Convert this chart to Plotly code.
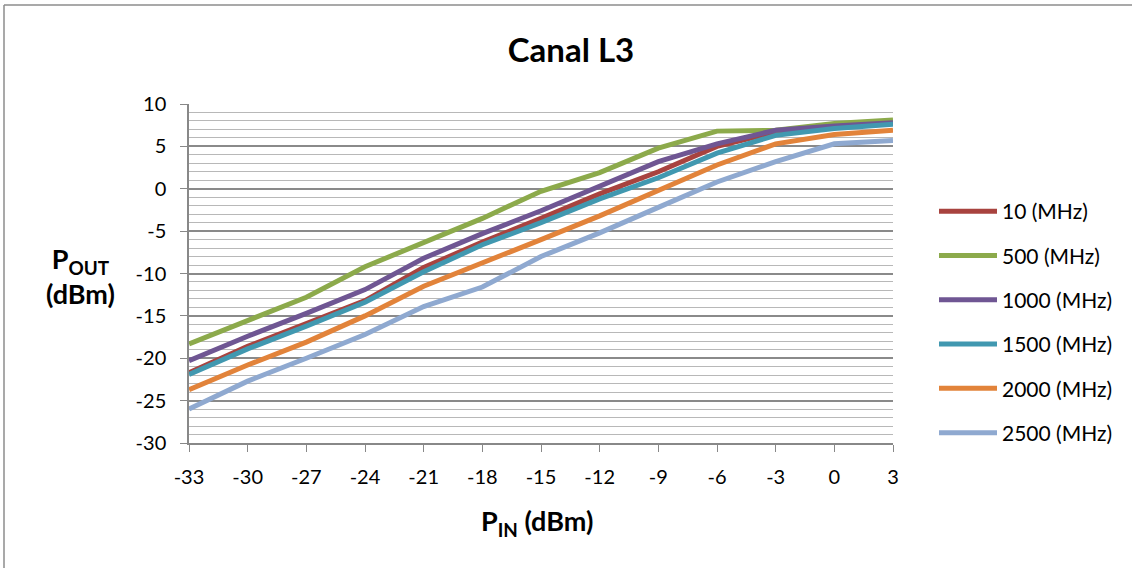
import plotly.graph_objects as go

# Input power sweep (dBm)
p_in = [-33, -30, -27, -24, -21, -18, -15, -12, -9, -6, -3, 0, 3]

# Output power (dBm) per frequency
series_names = ["10 (MHz)", "500 (MHz)", "1000 (MHz)", "1500 (MHz)", "2000 (MHz)", "2500 (MHz)"]
p_out_10 = [-21.7, -18.6, -15.9, -13.2, -9.3, -6.3, -3.5, -0.6, 2.0, 5.0, 6.7, 7.4, 7.8]
p_out_500 = [-18.3, -15.5, -12.8, -9.2, -6.4, -3.5, -0.3, 1.9, 4.8, 6.8, 6.9, 7.7, 8.1]
p_out_1000 = [-20.3, -17.4, -14.7, -11.9, -8.2, -5.3, -2.6, 0.3, 3.2, 5.3, 6.9, 7.4, 7.8]
p_out_1500 = [-21.9, -18.9, -16.2, -13.4, -9.8, -6.6, -4.0, -1.2, 1.3, 4.2, 6.3, 7.1, 7.6]
p_out_2000 = [-23.7, -20.8, -18.1, -15.0, -11.5, -8.8, -6.0, -3.2, -0.2, 2.8, 5.3, 6.4, 6.9]
p_out_2500 = [-26.0, -22.7, -20.0, -17.2, -13.9, -11.6, -8.0, -5.2, -2.2, 0.8, 3.2, 5.3, 5.7]

x_ticks = [-33, -30, -27, -24, -21, -18, -15, -12, -9, -6, -3, 0, 3]
y_ticks = [10, 5, 0, -5, -10, -15, -20, -25, -30]

colors = ["#A8433F", "#8CAA4B", "#6F5693", "#4198B0", "#E2833A", "#8FA9D0"]
all_series = [p_out_10, p_out_500, p_out_1000, p_out_1500, p_out_2000, p_out_2500]

FONT = "Lato"

fig = go.Figure()
for i, (name, ys, col) in enumerate(zip(series_names, all_series, colors)):
    fig.add_trace(go.Scatter(
        x=p_in, y=ys, mode="lines", name=name,
        line=dict(color=col, width=5),
        legendgroup=f"g{i}",
    ))

L, R, T, B = 189, 893, 104, 443
W, H = 1132, 568

fig.update_layout(
    width=W, height=H, autosize=False,
    margin=dict(l=L, r=W - R, t=T, b=H - B),
    paper_bgcolor="white", plot_bgcolor="white",
    font=dict(family=FONT, size=20, color="black"),
    title=dict(text="<b>Canal L3</b>", x=(571 - L) / (R - L), xref="paper", xanchor="center",
               y=1 - 50 / H, yanchor="middle", font=dict(size=33, family=FONT)),
    showlegend=True,
    legend=dict(
        x=(934 - L) / (R - L), xanchor="left",
        y=1 - (191 - T) / (B - T), yanchor="top",
        traceorder="grouped", tracegroupgap=14,
        itemwidth=58,
        font=dict(size=21, family=FONT),
        bgcolor="rgba(0,0,0,0)",
    ),
    xaxis=dict(
        range=[-33, 3], tickvals=x_ticks, ticktext=[str(v) for v in x_ticks],
        showgrid=False, zeroline=False,
        showline=True, linecolor="#888888", linewidth=1.5,
        ticks="outside", ticklen=7, tickcolor="#888888", tickwidth=1.2,
        ticklabelstandoff=8,
        tickfont=dict(size=20, family=FONT),
    ),
    yaxis=dict(
        range=[-30, 10], tickvals=y_ticks, ticktext=[str(v) for v in y_ticks],
        showgrid=True, gridcolor="#8A8A8A", gridwidth=1.5,
        zeroline=False,
        showline=True, linecolor="#888888", linewidth=1.5,
        ticks="outside", ticklen=7, tickcolor="#888888", tickwidth=1.2,
        ticklabelstandoff=10,
        tickfont=dict(size=20, family=FONT),
        minor=dict(dtick=1, showgrid=True, gridcolor="#B8B8B8", gridwidth=1.2, ticks=""),
    ),
    annotations=[
        dict(text="<b>P<sub>OUT</sub><br>(dBm)</b>", xref="paper", yref="paper",
             x=(80 - L) / (R - L), y=1 - (276 - T) / (B - T),
             xanchor="center", yanchor="middle", showarrow=False,
             font=dict(size=27, family=FONT)),
        dict(text="<b>P<sub>IN</sub> (dBm)</b>", xref="paper", yref="paper",
             x=(537 - L) / (R - L), y=-(522 - B) / (B - T),
             xanchor="center", yanchor="middle", showarrow=False,
             font=dict(size=27, family=FONT)),
    ],
    shapes=[
        # chart frame
        dict(type="line", xref="paper", yref="paper",
             x0=(4 - L) / (R - L), x1=(4 - L) / (R - L),
             y0=1 + (T - 5) / (B - T), y1=-(H + 10 - B) / (B - T),
             line=dict(color="#8C8C8C", width=1.5)),
        dict(type="line", xref="paper", yref="paper",
             x0=(4 - L) / (R - L), x1=(W + 10 - L) / (R - L),
             y0=1 + (T - 5) / (B - T), y1=1 + (T - 5) / (B - T),
             line=dict(color="#8C8C8C", width=1.5)),
    ],
)

fig.write_html("out.html")
